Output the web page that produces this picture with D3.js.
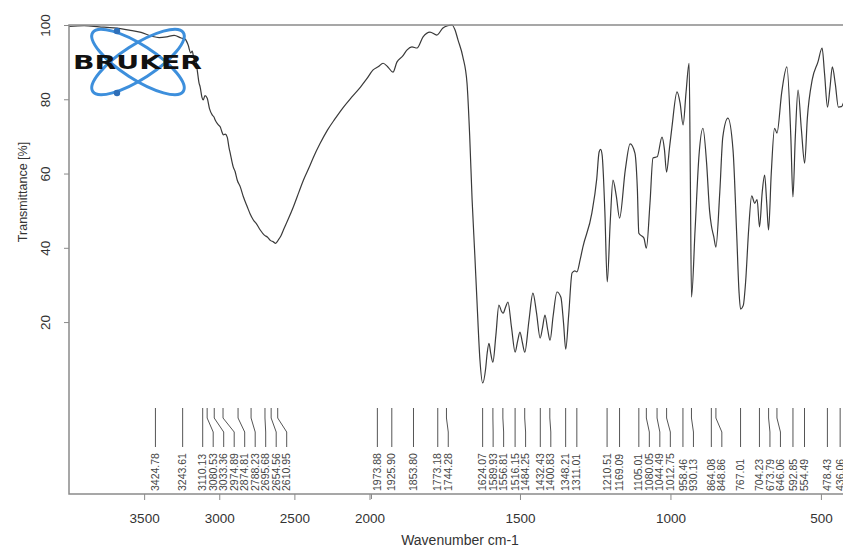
<!DOCTYPE html>
<html>
<head>
<meta charset="utf-8">
<script src="https://cdn.jsdelivr.net/npm/d3@7"></script>
<style>
    body { margin: 0; background: #fff; }
    svg { display: block; font-family: "Liberation Sans", Arial, sans-serif; }
</style>
</head>
<body>
<svg width="843" height="548"></svg>
<script>
// IR spectrum (wavenumber cm-1 -> transmittance %)
const wavenumbers = [
    4000, 3900, 3800, 3700, 3600, 3520, 3450, 3400, 3350, 3300, 3253, 3227, 3207, 3190, 3180,
    3168, 3160, 3147, 3135, 3127, 3115, 3107, 3095, 3080, 3065, 3047, 3035, 3027, 3010, 2993,
    2980, 2973, 2960, 2947, 2935, 2927, 2907, 2895, 2880, 2860, 2840, 2813, 2795, 2773, 2750,
    2727, 2700, 2680, 2660, 2640, 2625, 2607, 2590, 2573, 2540, 2507, 2470, 2440, 2400, 2373,
    2330, 2280, 2230, 2173, 2120, 2060, 2020, 1988, 1970, 1955, 1939, 1922, 1909, 1890, 1875,
    1859, 1842, 1822, 1799, 1776, 1756, 1740, 1726, 1716, 1706, 1690, 1676, 1667, 1659, 1650,
    1643, 1633, 1624, 1614, 1609, 1603, 1597, 1590, 1580, 1570, 1562, 1556, 1548, 1540, 1528,
    1516, 1508, 1500, 1492, 1484, 1470, 1457, 1445, 1433, 1425, 1417, 1408, 1400, 1390, 1377,
    1364, 1355, 1348, 1338, 1327, 1318, 1311, 1300, 1291, 1261, 1245, 1237, 1232, 1227, 1218,
    1210, 1200, 1191, 1180, 1169, 1150, 1134, 1118, 1110, 1105, 1088, 1080, 1068, 1058, 1044,
    1028, 1020, 1013, 1003, 995, 978, 968, 958, 948, 938, 934, 930, 918, 905, 892,
    880, 870, 864, 856, 849, 836, 826, 809, 792, 780, 772, 767, 758, 750, 740,
    730, 720, 712, 704, 695, 687, 680, 674, 665, 654, 646, 630, 613, 600, 593,
    585, 576, 565, 554, 545, 529, 510, 496, 488, 478, 470, 462, 452, 442, 432,
    420, 400
];
const transmittance = [
    99.6, 99.8, 99.5, 99.2, 98.6, 98.0, 97.0, 96.6, 96.8, 97.2, 96.5, 96.2, 94.6, 92.5, 93.0,
    91.0, 91.3, 88.0, 84.5, 83.3, 80.5, 79.8, 81.0, 80.3, 77.5, 75.8, 75.2, 74.4, 73.3, 72.5,
    71.0, 70.4, 70.6, 69.8, 67.0, 65.5, 61.8, 60.6, 58.2, 56.4, 53.8, 51.0, 49.2, 47.5, 46.3,
    44.8, 43.4, 42.9, 42.0, 41.6, 41.2, 42.1, 43.2, 44.8, 47.8, 51.0, 55.0, 58.2, 61.8, 64.4,
    68.0, 71.7, 74.7, 77.9, 80.5, 83.3, 85.4, 87.9, 88.8, 89.7, 88.7, 87.3, 90.0, 91.6, 93.3,
    94.1, 93.8, 96.8, 98.1, 97.3, 99.2, 99.8, 100, 98.7, 96.0, 91.5, 84.4, 70.0, 52.9, 38.0,
    25.9, 9.8, 3.6, 7.5, 11.6, 14.3, 11.5, 9.2, 16.5, 24.6, 23.0, 22.4, 24.0, 25.4, 18.5,
    11.9, 14.8, 17.3, 14.5, 11.9, 20.5, 27.8, 22.5, 15.7, 18.5, 21.9, 18.0, 15.1, 21.5, 28.1,
    26.7, 19.5, 12.7, 22.0, 33.2, 33.8, 33.5, 36.8, 40.2, 49.4, 58.5, 65.8, 66.5, 65.0, 50.0,
    30.8, 47.0, 58.2, 54.0, 48.0, 61.0, 68.0, 65.5, 56.0, 43.9, 42.6, 39.9, 52.0, 64.2, 64.5,
    69.8, 66.5, 60.4, 67.0, 72.5, 82.0, 79.0, 73.1, 82.0, 89.7, 60.0, 26.7, 45.0, 65.0, 72.2,
    63.0, 50.0, 46.0, 43.0, 40.2, 55.0, 69.8, 74.9, 66.3, 44.0, 28.0, 23.5, 24.5, 31.0, 45.0,
    54.0, 52.0, 53.0, 45.6, 55.0, 59.6, 52.0, 44.8, 60.0, 72.2, 70.9, 82.0, 88.7, 70.0, 53.7,
    70.0, 82.5, 72.0, 62.8, 75.0, 85.2, 90.0, 93.8, 87.0, 77.9, 83.0, 88.7, 84.0, 77.9, 78.0,
    80.0, 82.0
];

// picked peaks (position and printed label)
const peakPositions = [
    3424.78, 3243.61, 3110.13, 3080.53, 3033.36, 2974.89, 2874.81, 2788.23, 2695.68, 2654.56, 2610.95,
    1973.88, 1925.90, 1853.80, 1773.18, 1744.28,
    1624.07, 1589.93, 1556.81, 1516.15, 1484.25, 1432.43, 1400.83, 1348.21, 1311.01,
    1210.51, 1169.09, 1105.01, 1080.05, 1044.49, 1012.75, 958.46, 930.13, 864.08, 848.86,
    767.01, 704.23, 673.79, 646.06, 592.85, 554.49, 478.43, 436.06
];
const peakLabels = peakPositions.map(d => d.toFixed(2));

const xTickValues = [3500, 3000, 2500, 2000, 1500, 1000, 500];
const yTickValues = [20, 40, 60, 80, 100];

const area = { left: 69, right: 851, top: 25, bottom: 494 };

// OPUS style x axis: 4000-2000 is compressed, 2000-400 is stretched
function createScales() {
    const scX = d3.scaleLinear()
        .domain([4000, 2000, 400])
        .range([area.left, 369.5, area.right]);
    const scY = d3.scaleLinear()
        .domain([-26.3, 100])
        .range([area.bottom, area.top]);
    return [scX, scY];
}

function drawAxes(svg, scX, scY) {
    // x axis
    const gx = svg.append("g")
        .attr("transform", `translate(0, ${area.bottom})`)
        .call(d3.axisBottom(scX).tickValues(xTickValues).tickSize(6).tickSizeOuter(0).tickFormat(d3.format("d")));
    gx.select(".domain").remove();
    gx.selectAll("line").attr("stroke", "#8a8a8a");
    gx.selectAll("text")
        .attr("y", 19)
        .attr("fill", "#333")
        .style("font-size", "13.5px")
        .style("font-family", "Liberation Sans, Arial, sans-serif");

    // second tick at the scale break
    svg.append("line")
        .attr("x1", scX(2000) + 2).attr("x2", scX(2000) + 2)
        .attr("y1", area.bottom).attr("y2", area.bottom + 5)
        .attr("stroke", "#8a8a8a");

    // y axis, labels turned upright
    const gy = svg.append("g")
        .attr("transform", `translate(${area.left}, 0)`)
        .call(d3.axisLeft(scY).tickValues(yTickValues).tickSize(5).tickSizeOuter(0));
    gy.select(".domain").remove();
    gy.selectAll("line").attr("stroke", "#8a8a8a");
    gy.selectAll("text")
        .attr("transform", "rotate(-90)")
        .attr("x", 0)
        .attr("y", -19)
        .attr("dy", 0)
        .attr("fill", "#333")
        .style("text-anchor", "middle")
        .style("font-size", "13.5px")
        .style("font-family", "Liberation Sans, Arial, sans-serif");

    // frame
    svg.append("rect")
        .attr("x", area.left)
        .attr("y", area.top)
        .attr("width", area.right - area.left)
        .attr("height", area.bottom - area.top)
        .attr("fill", "none")
        .attr("stroke", "#8a8a8a")
        .attr("stroke-width", 1.5);

    // titles
    svg.append("text")
        .attr("x", 460)
        .attr("y", 545)
        .attr("text-anchor", "middle")
        .attr("fill", "#333")
        .style("font-size", "14px")
        .text("Wavenumber cm-1");

    svg.append("text")
        .attr("transform", "translate(27, 192) rotate(-90)")
        .attr("text-anchor", "middle")
        .attr("fill", "#333")
        .style("font-size", "12.5px")
        .text("Transmittance [%]");
}

function drawSpectrum(svg, scX, scY) {
    svg.append("clipPath")
        .attr("id", "plot-clip")
        .append("rect")
        .attr("x", area.left)
        .attr("y", area.top - 1)
        .attr("width", area.right - area.left)
        .attr("height", area.bottom - area.top + 1);

    const line = d3.line()
        .x(d => scX(d[0]))
        .y(d => scY(d[1]))
        .curve(d3.curveMonotoneX);

    svg.append("path")
        .datum(d3.zip(wavenumbers, transmittance))
        .attr("clip-path", "url(#plot-clip)")
        .attr("fill", "none")
        .attr("stroke", "#3a3a3a")
        .attr("stroke-width", 1.2)
        .attr("d", line);
}

// peak ticks with labels pushed apart when crowded
function drawPeaks(svg, scX) {
    const gap = 10.5;
    let prev = -Infinity;
    const peaks = peakPositions.map((p, i) => {
        const px = scX(p);
        const lx = Math.max(px, prev + gap);
        prev = lx;
        return { px: px, lx: lx, label: peakLabels[i] };
    });

    svg.selectAll(".peak-line")
        .data(peaks)
        .enter()
        .append("path")
        .attr("class", "peak-line")
        .attr("fill", "none")
        .attr("stroke", "#555")
        .attr("stroke-width", 1)
        .attr("d", d => `M${d.px},408 L${d.px},418 L${d.lx},432 L${d.lx},447`);

    svg.selectAll(".peak-label")
        .data(peaks)
        .enter()
        .append("text")
        .attr("class", "peak-label")
        .attr("transform", d => `translate(${d.lx + 3.6}, 491) rotate(-90)`)
        .attr("fill", "#444")
        .style("font-size", "10.5px")
        .text(d => d.label);
}

function drawLogo(svg) {
    const g = svg.append("g").attr("transform", "translate(138, 62)");
    [33, -33].forEach(a => {
        g.append("ellipse")
            .attr("rx", 54)
            .attr("ry", 17)
            .attr("transform", `rotate(${a})`)
            .attr("fill", "none")
            .attr("stroke", "#3d8fdc")
            .attr("stroke-width", 3);
    });
    g.append("circle").attr("cx", -21).attr("cy", -31).attr("r", 3.2).attr("fill", "#2f6fb8");
    g.append("circle").attr("cx", -21).attr("cy", 31).attr("r", 3.2).attr("fill", "#2f6fb8");
    g.append("text")
        .attr("x", -65)
        .attr("y", 7)
        .attr("textLength", 129)
        .attr("lengthAdjust", "spacingAndGlyphs")
        .attr("fill", "#111")
        .style("font-family", "DejaVu Sans, sans-serif")
        .style("font-weight", "bold")
        .style("font-size", "19px")
        .text("BRUKER");
}

function drawGraph() {
    const svg = d3.select("svg");
    svg.selectAll("*").remove();
    const [scX, scY] = createScales();
    drawSpectrum(svg, scX, scY);
    drawAxes(svg, scX, scY);
    drawPeaks(svg, scX);
    drawLogo(svg);
}

drawGraph();
</script>
</body>
</html>
